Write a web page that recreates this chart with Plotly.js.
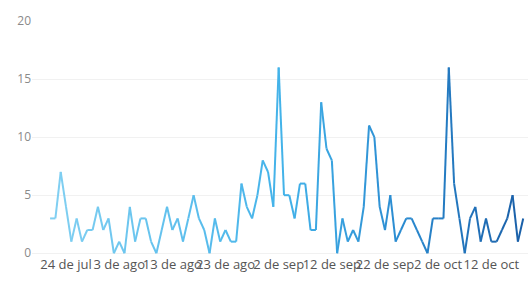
<!DOCTYPE html>
<html><head><meta charset="utf-8">
<script src="https://cdn.plot.ly/plotly-3.0.1.min.js"></script>
<style>html,body{margin:0;padding:0;background:#fff}#chart{width:532px;height:283px}</style>
</head><body><div id="chart"></div>
<script>
const startDate = '2023-07-21';
const values = [3,3,7,4,1,3,1,2,2,4,
                2,3,0,1,0,4,1,3,3,1,
                0,2,4,2,3,1,3,5,3,2,
                0,3,1,2,1,1,6,4,3,5,
                8,7,4,16,5,5,3,6,6,2,
                2,13,9,8,0,3,1,2,1,4,
                11,10,4,2,5,1,2,3,3,2,
                1,0,3,3,3,16,6,3,0,3,
                4,1,3,1,1,2,3,5,1,3];
const tickDates = ['2023-07-24','2023-08-03','2023-08-13','2023-08-23','2023-09-02','2023-09-12','2023-09-22','2023-10-02','2023-10-12'];
const tickText = ['24 de jul','3 de ago','13 de ago','23 de ago','2 de sep','12 de sep','22 de sep','2 de oct','12 de oct'];
const yTicks = [0,5,10,15,20];

const DAY = 86400000;
const t0 = Date.parse(startDate + 'T00:00:00Z');
const dates = values.map((v,i)=> new Date(t0 + i*DAY).toISOString().slice(0,10));
const iso = ms => new Date(ms).toISOString().replace('T',' ').slice(0,19);

const stops = [[0,[130,208,242]],[0.5,[66,178,233]],[0.75,[42,138,208]],[1,[26,95,168]]];
function colorAt(f){
  for(let k=0;k<stops.length-1;k++){
    const a=stops[k], b=stops[k+1];
    if(f<=b[0]){
      const u=(f-a[0])/(b[0]-a[0]);
      const c=a[1].map((x,j)=>Math.round(x+(b[1][j]-x)*u));
      return 'rgb('+c.join(',')+')';
    }
  }
  return 'rgb('+stops[stops.length-1][1].join(',')+')';
}
const traces = [];
for(let i=0;i<values.length-1;i++){
  traces.push({
    type:'scatter', mode:'lines',
    x:[dates[i],dates[i+1]], y:[values[i],values[i+1]],
    line:{color:colorAt((i+0.5)/(values.length-1)), width:2},
    hoverinfo:'skip'
  });
}
const layout = {
  width:532, height:283,
  margin:{l:32,r:4,t:21,b:28},
  showlegend:false,
  paper_bgcolor:'#fff', plot_bgcolor:'#fff',
  xaxis:{type:'date', range:[iso(t0-3.4*DAY), iso(t0+(values.length-1+0.9)*DAY)],
    tickmode:'array', tickvals:tickDates, ticktext:tickText, tickangle:0,
    showgrid:false, zeroline:false, showline:false, ticks:'',
    tickfont:{family:'Open Sans, sans-serif', size:13, color:'#555'}},
  yaxis:{range:[-0.15,20], tickmode:'array', tickvals:yTicks,
    showgrid:true, gridcolor:'#f1f1f1', zeroline:false, showline:false, ticks:'',
    tickfont:{family:'Open Sans, sans-serif', size:12, color:'#8a8a8a'}}
};
Plotly.newPlot('chart', traces, layout, {staticPlot:true, displayModeBar:false});
</script></body></html>
